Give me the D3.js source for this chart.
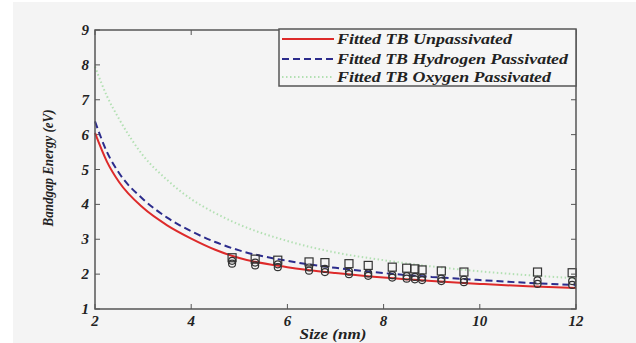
<!DOCTYPE html>
<html>
<head>
<meta charset="utf-8">
<script src="https://cdn.jsdelivr.net/npm/d3@7.9.0/dist/d3.min.js"></script>
<style>
  body { margin: 0; background: #fff; }
  svg { display: block; }
  text { font-family: "Liberation Serif", "Times New Roman", Times, serif; font-weight: bold; font-style: italic; fill: #222; }
</style>
</head>
<body>
<svg width="636" height="343"></svg>
<script>
// fitted curves
const fitSize = [2, 2.25, 2.5, 3, 3.5, 4, 4.5, 5, 6, 7, 8, 9, 10, 11, 12];
const fitUnpass = [6.05, 5.22, 4.64, 3.9, 3.4, 3.02, 2.7, 2.46, 2.2, 2.03, 1.9, 1.8, 1.72, 1.65, 1.6];
const fitHydrogen = [6.38, 5.5, 4.9, 4.15, 3.62, 3.23, 2.92, 2.68, 2.38, 2.18, 2.03, 1.92, 1.83, 1.75, 1.69];
const fitOxygen = [7.95, 7.1, 6.45, 5.4, 4.7, 4.15, 3.75, 3.42, 2.95, 2.62, 2.4, 2.22, 2.08, 1.97, 1.88];

// TB data points
const dataSize = [4.85, 5.33, 5.8, 6.45, 6.78, 7.28, 7.68, 8.18, 8.48, 8.65, 8.8, 9.2, 9.67, 11.2, 11.92];
const dataOxygen = [2.47, 2.43, 2.4, 2.35, 2.33, 2.3, 2.25, 2.2, 2.17, 2.15, 2.12, 2.09, 2.06, 2.06, 2.04];
const dataHydrogen = [2.38, 2.33, 2.28, 2.19, 2.15, 2.07, 2.02, 1.97, 1.94, 1.92, 1.9, 1.87, 1.84, 1.82, 1.8];
const dataUnpass = [2.3, 2.25, 2.2, 2.1, 2.06, 2.0, 1.95, 1.9, 1.87, 1.85, 1.83, 1.8, 1.77, 1.72, 1.69];

const xTicks = [2, 4, 6, 8, 10, 12];
const yTicks = [1, 2, 3, 4, 5, 6, 7, 8, 9];
const legendLabels = ['Fitted TB Unpassivated', 'Fitted TB Hydrogen Passivated', 'Fitted TB Oxygen Passivated'];

const svg = d3.select('svg');
svg.append('rect').attr('x', 13).attr('y', 2).attr('width', 623).attr('height', 341).attr('fill', '#f4f4f4');

const pLeft = 95, pRight = 576, pTop = 30, pBottom = 309;
const x = d3.scaleLinear().domain([2, 12]).range([pLeft, pRight]);
const y = d3.scaleLinear().domain([1, 9]).range([pBottom, pTop]);

const axisColor = '#555';

// ticks (inward, mirrored like matlab)
const g = svg.append('g');
xTicks.forEach(t => {
  g.append('line').attr('x1', x(t)).attr('x2', x(t)).attr('y1', pBottom).attr('y2', pBottom - 5).attr('stroke', axisColor);
  g.append('line').attr('x1', x(t)).attr('x2', x(t)).attr('y1', pTop).attr('y2', pTop + 5).attr('stroke', axisColor);
  g.append('text').attr('x', x(t)).attr('y', 326).attr('text-anchor', 'middle').attr('font-size', 15).text(t);
});
yTicks.forEach(t => {
  g.append('line').attr('x1', pLeft).attr('x2', pLeft + 5).attr('y1', y(t)).attr('y2', y(t)).attr('stroke', axisColor);
  g.append('line').attr('x1', pRight).attr('x2', pRight - 5).attr('y1', y(t)).attr('y2', y(t)).attr('stroke', axisColor);
  g.append('text').attr('x', 89).attr('y', y(t) + 5).attr('text-anchor', 'end').attr('font-size', 15).text(t);
});

const line = d3.line().x(d => x(d[0])).y(d => y(d[1])).curve(d3.curveMonotoneX);

const series = [
  { vals: fitOxygen, color: '#b3e0b3', width: 2, dash: '1.5,2.5' },
  { vals: fitHydrogen, color: '#2c2c8c', width: 2, dash: '7,4' },
  { vals: fitUnpass, color: '#dd2a2a', width: 2, dash: null }
];
series.forEach(s => {
  svg.append('path')
    .attr('d', line(fitSize.map((v, i) => [v, s.vals[i]])))
    .attr('fill', 'none')
    .attr('stroke', s.color)
    .attr('stroke-width', s.width)
    .attr('stroke-dasharray', s.dash);
});

// markers
dataSize.forEach((d, i) => {
  svg.append('rect')
    .attr('x', x(d) - 4).attr('y', y(dataOxygen[i]) - 4)
    .attr('width', 8).attr('height', 8)
    .attr('fill', 'none').attr('stroke', '#333').attr('stroke-width', 1.2);
  svg.append('circle').attr('cx', x(d)).attr('cy', y(dataHydrogen[i])).attr('r', 3.5)
    .attr('fill', 'none').attr('stroke', '#333').attr('stroke-width', 1.2);
  svg.append('circle').attr('cx', x(d)).attr('cy', y(dataUnpass[i])).attr('r', 3.5)
    .attr('fill', 'none').attr('stroke', '#333').attr('stroke-width', 1.2);
});

// axes frame
svg.append('rect').attr('x', pLeft).attr('y', pTop).attr('width', pRight - pLeft).attr('height', pBottom - pTop)
  .attr('fill', 'none').attr('stroke', axisColor).attr('stroke-width', 1.5);

// legend
const legendWidths = [175, 231, 214];
const lg = svg.append('g');
lg.append('rect').attr('x', 279).attr('y', 29).attr('width', pRight - 279).attr('height', 57)
  .attr('fill', '#f6f6f6').attr('stroke', axisColor).attr('stroke-width', 1.5);
[39, 59, 77].forEach((ly, i) => {
  const s = series[2 - i];
  lg.append('line').attr('x1', 282).attr('x2', 334).attr('y1', ly).attr('y2', ly)
    .attr('stroke', s.color).attr('stroke-width', s.width).attr('stroke-dasharray', s.dash);
  lg.append('text').attr('x', 337).attr('y', ly + 5).attr('font-size', 14)
    .attr('textLength', legendWidths[i]).attr('lengthAdjust', 'spacingAndGlyphs')
    .text(legendLabels[i]);
});

// axis labels
svg.append('text').attr('x', 333).attr('y', 339).attr('text-anchor', 'middle').attr('font-size', 14)
  .attr('textLength', 67).attr('lengthAdjust', 'spacingAndGlyphs').text('Size (nm)');
svg.append('text').attr('transform', 'translate(53,168) rotate(-90)').attr('text-anchor', 'middle').attr('font-size', 14)
  .attr('textLength', 117).attr('lengthAdjust', 'spacingAndGlyphs').text('Bandgap Energy (eV)');
</script>
</body>
</html>
